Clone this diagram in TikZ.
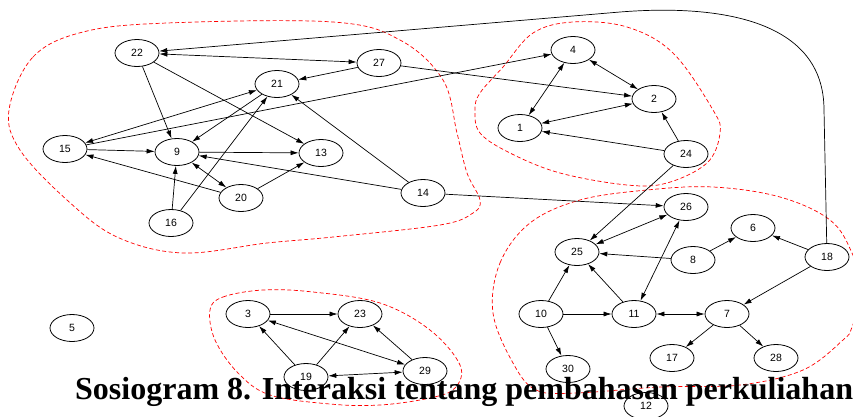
\documentclass[tikz,border=0pt]{standalone}
\usepackage{fontspec}
\setmainfont{Liberation Serif}
\setsansfont{Liberation Sans}
\usetikzlibrary{shapes.geometric,arrows.meta}
\tikzstyle{actor} = [ellipse, draw, fill=white, line width=0.8pt, minimum width=44pt, minimum height=27pt, inner sep=0pt, font=\sffamily\fontsize{10.5}{12}\selectfont]
\tikzstyle{line} = [draw, line width=0.7pt, -{Latex[length=8pt,width=5pt]}]
\tikzstyle{both} = [draw, line width=0.7pt, {Latex[length=8pt,width=5pt]}-{Latex[length=8pt,width=5pt]}]
\tikzstyle{group} = [draw=red, line width=0.7pt, dash pattern=on 4pt off 2.5pt]

\begin{document}
\begin{tikzpicture}[x=1pt, y=-1pt]
\useasboundingbox (0,0) rectangle (853,416);
% Clusters
\path [group] plot[smooth cycle, tension=0.6] coordinates {(9,110) (33,57) (83,32) (167,23) (333,22) (400,40) (443,80) (457,133) (467,173) (480,200) (473,213) (440,225) (333,237) (267,243) (183,253) (117,237) (67,200) (20,150)};
\path [group] plot[smooth cycle, tension=0.6] coordinates {(573,22) (627,27) (673,53) (713,110) (720,133) (707,163) (667,183) (627,185) (560,173) (510,153) (480,133) (475,110) (480,93) (503,67) (533,33)};
\path [group] plot[smooth cycle, tension=0.6] coordinates {(493,313) (500,263) (530,223) (580,200) (647,190) (713,187) (780,197) (830,220) (852,253) (862,290) (852,327) (843,340) (803,370) (740,385) (660,387) (576,393) (536,390) (513,363)};
\path [group] plot[smooth cycle, tension=0.6] coordinates {(210,310) (223,297) (263,290) (313,292) (380,303) (430,330) (460,365) (455,388) (430,398) (380,405) (330,404) (270,395) (238,373) (215,340)};
% Actors
\node [actor] (s22) at (137,53) {22};
\node [actor] (s27) at (379,63) {27};
\node [actor] (s21) at (277,84) {21};
\node [actor] (s15) at (65,149) {15};
\node [actor] (s9) at (177,152) {9};
\node [actor] (s13) at (321,153) {13};
\node [actor] (s20) at (241,198) {20};
\node [actor] (s14) at (423,193) {14};
\node [actor] (s16) at (171,223) {16};
\node [actor] (s4) at (573,50) {4};
\node [actor] (s2) at (654,99) {2};
\node [actor] (s1) at (520,128) {1};
\node [actor] (s24) at (686,154) {24};
\node [actor] (s26) at (686,207) {26};
\node [actor] (s6) at (753,228) {6};
\node [actor] (s25) at (577,252) {25};
\node [actor] (s8) at (693,260) {8};
\node [actor] (s18) at (827,257) {18};
\node [actor] (s10) at (541,314) {10};
\node [actor] (s11) at (634,314) {11};
\node [actor] (s7) at (727,314) {7};
\node [actor] (s17) at (672,358) {17};
\node [actor] (s28) at (776,358) {28};
\node [actor] (s30) at (568,369) {30};
\node [actor] (s12) at (646,406) {12};
\node [actor] (s3) at (248,314) {3};
\node [actor] (s23) at (360,314) {23};
\node [actor] (s19) at (306,377) {19};
\node [actor] (s29) at (425,371) {29};
\node [actor] (s5) at (72,328) {5};
% Draw the edges
\coordinate (bendA) at (824,110);
\coordinate (bendB) at (620,12);
\path [line] (s18) -- (bendA) .. controls (824,20) and (720,4) .. (bendB) -- (s22);
\path [both] (s22) -- (s27);
\path [line] (s22) -- (s9);
\path [line] (s22) -- (s13);
\path [line] (s27) -- (s21);
\path [line] (s27) -- (s2);
\path [both] (s15) -- (s21);
\path [line] (s15) -- (s4);
\path [line] (s15) -- (s9);
\path [line] (s20) -- (s15);
\path [line] (s21) -- (s9);
\path [line] (s16) -- (s9);
\path [line] (s16) -- (s21);
\path [line] (s9) -- (s13);
\path [both] (s9) -- (s20);
\path [line] (s20) -- (s13);
\path [line] (s14) -- (s9);
\path [line] (s14) -- (s21);
\path [line] (s14) -- (s26);
\path [both] (s4) -- (s1);
\path [both] (s4) -- (s2);
\path [both] (s1) -- (s2);
\path [line] (s24) -- (s1);
\path [line] (s24) -- (s2);
\path [line] (s24) -- (s25);
\path [both] (s25) -- (s26);
\path [both] (s11) -- (s26);
\path [line] (s8) -- (s25);
\path [line] (s8) -- (s6);
\path [line] (s18) -- (s6);
\path [line] (s18) -- (s7);
\path [line] (s10) -- (s25);
\path [line] (s11) -- (s25);
\path [line] (s10) -- (s11);
\path [line] (s10) -- (s30);
\path [both] (s11) -- (s7);
\path [line] (s7) -- (s17);
\path [line] (s7) -- (s28);
\path [line] (s3) -- (s23);
\path [line] (s19) -- (s3);
\path [line] (s19) -- (s23);
\path [both] (s3) -- (s29);
\path [both] (s19) -- (s29);
\path [line] (s29) -- (s23);
% Title
\node [anchor=base west, inner sep=0pt, font=\bfseries\fontsize{32}{36}\selectfont] (title) at (75,399) {Sosiogram 8. Interaksi tentang pembahasan perkuliahan};
\end{tikzpicture}
\end{document}
